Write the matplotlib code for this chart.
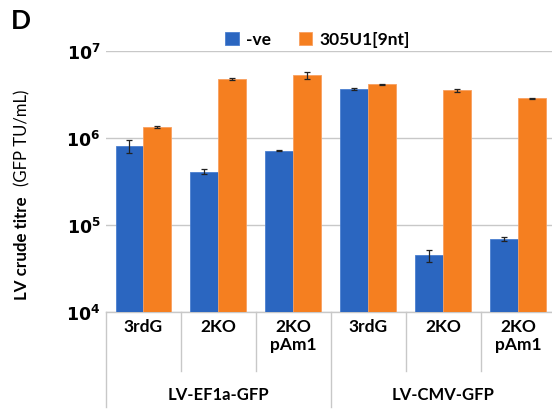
import matplotlib
matplotlib.use("Agg")
import matplotlib.pyplot as plt
import matplotlib.transforms as mtransforms
import numpy as np

plt.rcParams["font.family"] = ["Lato", "DejaVu Sans"]
plt.rcParams["mathtext.default"] = "bf"

# data
categories = ["3rdG", "2KO", "2KO\npAm1", "3rdG", "2KO", "2KO\npAm1"]
groups = ["LV-EF1a-GFP", "LV-CMV-GFP"]
neg = [8.1e5, 4.1e5, 7.1e5, 3.66e6, 4.5e4, 6.9e4]
neg_err = [1.4e5, 2.5e4, 1.0e4, 0.8e5, 0.7e4, 0.4e4]
u305 = [1.34e6, 4.75e6, 5.3e6, 4.15e6, 3.55e6, 2.87e6]
u305_err = [0.05e6, 0.1e6, 0.5e6, 0.05e6, 0.15e6, 0.03e6]

blue = "#2b66c0"
orange = "#f57f20"
grey = "#c8c8c8"

fig = plt.figure(figsize=(5.52, 4.18), dpi=100)
ax = fig.add_axes([0.192, 0.2536, 0.815, 0.6244])

x = np.arange(len(categories))
w = 0.373
b1 = ax.bar(x - w / 2, neg, w, color=blue, edgecolor="#4a7fd0", linewidth=0.6,
            label="-ve", zorder=3)
b2 = ax.bar(x + w / 2, u305, w, color=orange, edgecolor="#f8a060", linewidth=0.6,
            label="305U1[9nt]", zorder=3)
ax.errorbar(x - w / 2, neg, yerr=neg_err, fmt="none", ecolor="#222222",
            elinewidth=0.9, capsize=2.2, capthick=0.9, zorder=4)
ax.errorbar(x + w / 2, u305, yerr=u305_err, fmt="none", ecolor="#222222",
            elinewidth=0.9, capsize=2.2, capthick=0.9, zorder=4)

ax.set_yscale("log")
ax.set_ylim(1e4, 1e7)
ax.set_xlim(-0.5, len(categories) - 0.5)
ax.set_yticks([1e4, 1e5, 1e6, 1e7])
ax.set_yticklabels([r"$10^{4}$", r"$10^{5}$", r"$10^{6}$", r"$10^{7}$"])
ax.minorticks_off()
ax.tick_params(axis="y", length=0, labelsize=12.5, pad=4)
ax.tick_params(axis="x", length=0, labelbottom=False)
ax.yaxis.grid(True, color=grey, linewidth=1.0, zorder=0)
for s in ["left", "right", "top"]:
    ax.spines[s].set_visible(False)
ax.spines["bottom"].set_color(grey)
ax.spines["bottom"].set_linewidth(1.0)

# category axis below the plot
trans = mtransforms.blended_transform_factory(ax.transData, ax.transAxes)
for i, c in enumerate(categories):
    ax.text(i, -0.028, c, transform=trans, ha="center", va="top",
            fontsize=12.5, fontweight="bold", linespacing=1.15)
for b in np.arange(len(categories) + 1) - 0.5:
    if b in (-0.5, 2.5, 5.5):
        y_end = -0.364
    else:
        y_end = -0.226
    ax.plot([b, b], [0, y_end], transform=trans, color=grey, linewidth=1.0,
            clip_on=False)
for j, g in enumerate(groups):
    ax.text(j * 3 + 1, -0.318, g, transform=trans, ha="center", va="center",
            fontsize=12, fontweight="bold")

# y label: bold part + normal part
fig.text(0.04, 0.282, "LV crude titre", rotation=90, ha="center", va="bottom",
         fontsize=12.2, fontweight="bold")
fig.text(0.04, 0.785, "(GFP TU/mL)", rotation=90, ha="center", va="top",
         fontsize=12)

fig.text(0.02, 0.978, "D", ha="left", va="top", fontsize=19, fontweight="bold")

fig.legend(handles=[b1, b2], loc="center", bbox_to_anchor=(0.575, 0.905),
           ncol=2, frameon=False, handlelength=0.8, handleheight=0.8,
           handletextpad=0.4, columnspacing=1.6,
           prop={"weight": "bold", "size": 12.5})

fig.savefig("out.png", dpi=100)
